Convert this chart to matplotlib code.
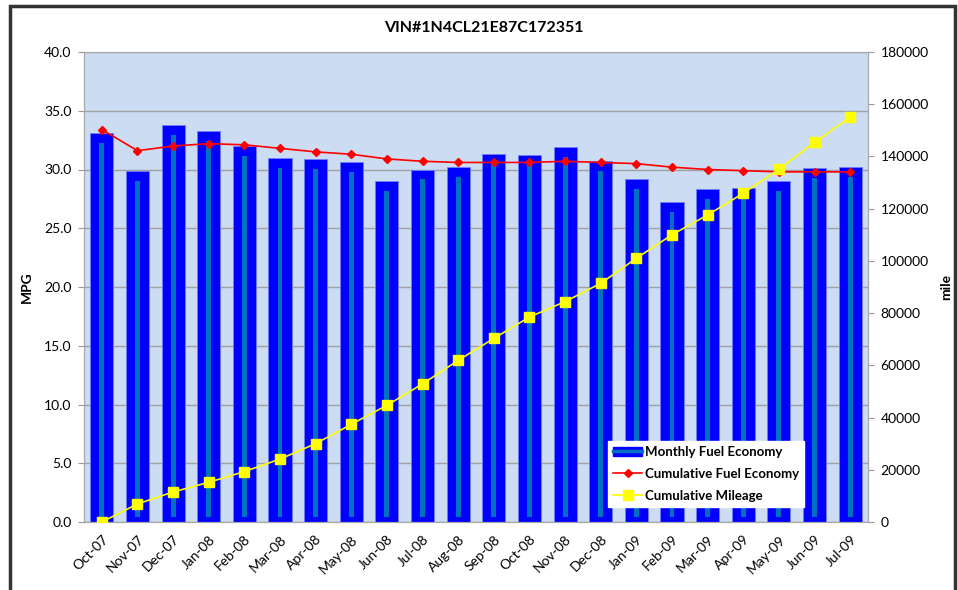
import matplotlib
matplotlib.use("Agg")
import matplotlib.pyplot as plt
from matplotlib.patches import Rectangle
from matplotlib.lines import Line2D
import numpy as np

plt.rcParams['font.family'] = ['Lato', 'DejaVu Sans']

# ==== Data ==== #
months = ["Oct-07", "Nov-07", "Dec-07", "Jan-08", "Feb-08", "Mar-08", "Apr-08",
          "May-08", "Jun-08", "Jul-08", "Aug-08", "Sep-08", "Oct-08", "Nov-08",
          "Dec-08", "Jan-09", "Feb-09", "Mar-09", "Apr-09", "May-09", "Jun-09", "Jul-09"]
monthly_mpg = [33.1, 29.9, 33.8, 33.3, 32.0, 31.0, 30.9, 30.6, 29.0, 30.0, 30.2,
               31.3, 31.2, 31.9, 30.7, 29.2, 27.2, 28.3, 28.4, 29.0, 30.1, 30.2]
cumulative_mpg = [33.4, 31.6, 32.0, 32.2, 32.1, 31.8, 31.5, 31.3, 30.9, 30.7, 30.6,
                  30.6, 30.6, 30.7, 30.6, 30.5, 30.2, 30.0, 29.9, 29.8, 29.8, 29.8]
cumulative_miles = [0, 6900, 11500, 15200, 19300, 24100, 30000, 37400, 44700, 52900,
                    61900, 70300, 78500, 84400, 91400, 101000, 110000, 117600, 125900,
                    135100, 145400, 155000]

# ==== Figure ==== #
fig = plt.figure(figsize=(9.58, 5.9), dpi=100)
fig.patches.append(Rectangle((10 / 958, -0.05), 945 / 958, 1.05 - 6 / 590,
                             transform=fig.transFigure, fill=False,
                             edgecolor='#333333', linewidth=2.5))

ax = fig.add_axes([84 / 958, 68 / 590, 784 / 958, 470 / 590])
ax.set_facecolor('#CCDCF2')
x = np.arange(len(months))

ax.bar(x, monthly_mpg, width=0.65, color='#0000FF', edgecolor='#7080FF',
       linewidth=0.6, zorder=2)
inner = [v - 0.85 for v in monthly_mpg]
ax.bar(x, [v - 0.4 for v in inner], bottom=0.4, width=0.14, color='#0070C0',
       linewidth=0, zorder=3)
ax.plot(x, cumulative_mpg, color='#FF0000', linewidth=1.2, marker='D',
        markersize=4.5, zorder=4)

ax.set_xlim(-0.5, len(months) - 0.5)
ax.set_ylim(0, 40)
ax.set_yticks(np.arange(0, 40.1, 5))
ax.set_yticklabels([f"{v:.1f}" for v in np.arange(0, 40.1, 5)], fontsize=10)
ax.set_xticks(x)
ax.set_xticklabels(months, rotation=45, ha='right', rotation_mode='anchor', fontsize=10)
ax.tick_params(axis='x', length=0, pad=8)
ax.tick_params(axis='y', length=4, color='#999999', pad=5)
ax.yaxis.grid(True, color='#A0A0A0', linewidth=1)
ax.set_axisbelow(True)
for s in ax.spines.values():
    s.set_color('#A8A8A8')
ax.set_ylabel("MPG", fontweight='bold', fontsize=10, labelpad=8)

ax2 = ax.twinx()
ax2.plot(x, cumulative_miles, color='#FFFF00', linewidth=1.2, marker='s',
         markersize=7, zorder=5)
ax2.set_ylim(0, 180000)
ax2.set_yticks(np.arange(0, 180001, 20000))
ax2.set_yticklabels([str(v) for v in range(0, 180001, 20000)], fontsize=10)
ax2.tick_params(axis='y', length=4, color='#999999', pad=5)
for s in ax2.spines.values():
    s.set_color('#A8A8A8')
ax2.set_ylabel("mile", fontweight='bold', fontsize=10, labelpad=8)

fig.text(484 / 958, 1 - 28 / 590, "VIN#1N4CL21E87C172351", ha='center', va='center',
         fontweight='bold', fontsize=11.5)

# ==== Legend ==== #
bar_handle = (Rectangle((0, 0), 1, 1, facecolor='#0000FF', edgecolor='#0000FF'),
              Line2D([], [], color='#0070C0', linewidth=2.5))
red_handle = Line2D([], [], color='#FF0000', marker='D', markersize=4.5, linewidth=1.2)
yel_handle = Line2D([], [], color='#FFFF00', marker='s', markersize=7, linewidth=1.2)
leg = ax2.legend([bar_handle, red_handle, yel_handle],
                 ["Monthly Fuel Economy", "Cumulative Fuel Economy", "Cumulative Mileage"],
                 loc='lower left', bbox_to_anchor=(0.668, 0.032), borderaxespad=0,
                 fancybox=False, framealpha=1, edgecolor='white', fontsize=9.5,
                 handlelength=2.2, handletextpad=0.2, labelspacing=0.75)
for t in leg.get_texts():
    t.set_fontweight('bold')

fig.savefig("out.png", dpi=100)
